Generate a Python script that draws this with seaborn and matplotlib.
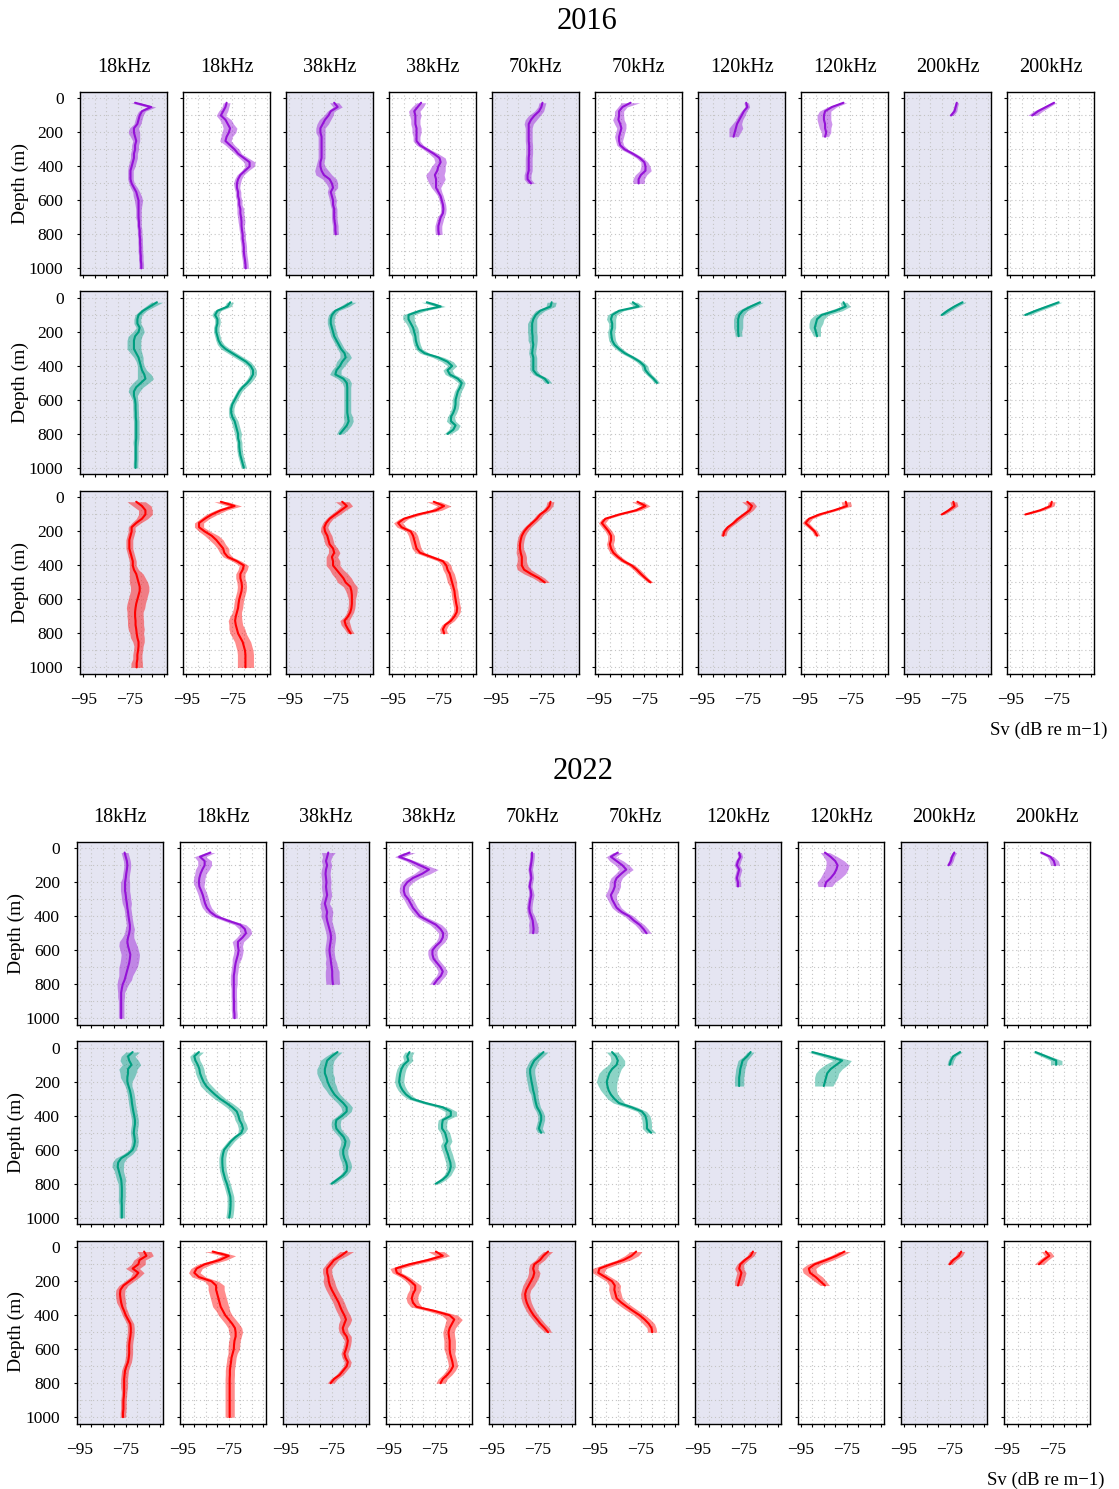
import numpy as np
import pandas as pd
import matplotlib
matplotlib.use("Agg")
import matplotlib.pyplot as plt
import seaborn as sns
from matplotlib.ticker import FixedLocator

sns.set_theme(style="white")
plt.rcParams["font.family"] = ["Liberation Serif", "DejaVu Serif"]
plt.rcParams["axes.unicode_minus"] = True
for k in ["text.color", "axes.labelcolor", "xtick.color", "ytick.color"]:
    plt.rcParams[k] = "black"

# ---------------- data ----------------
YEARS = ["2016", "2022"]
FREQS = ["18kHz", "18kHz", "38kHz", "38kHz", "70kHz", "70kHz", "120kHz", "120kHz", "200kHz", "200kHz"]
XTICKS = [-95, -90, -85, -80, -75, -70, -65, -60]
XLABELS = ["\u221295", "", "", "", "\u221275", "", "", ""]
YTICKS = [0, 200, 400, 600, 800, 1000]
DEPTH_STEP = 25  # first sample at 25 m, then every 25 m

SV16_R1 = [
    [-72.5,-65.5,-69.5,-70.5,-71,-71.5,-73,-73,-72.5,-72,-72.5,-72.5,-73,-73,-73.5,-74,-74.5,-74.5,-74.5,-74,-73,-72,-71.5,-71,-71,-71,-71,-71,-70.8,-70.8,-70.5,-70.5,-70.3,-70.3,-70.2,-70.2,-70,-70,-69.8,-69.8],
    [-77.5,-78,-79,-80,-78,-77,-76,-76.5,-77.5,-78,-76,-74,-72.5,-70,-67.5,-67.5,-69.5,-71.5,-72.5,-73,-73,-72.5,-72.5,-72,-72,-71.5,-71.5,-71.2,-71,-71,-70.8,-70.5,-70.5,-70.2,-70,-70,-69.8,-69.5,-69.3,-69.2],
    [-75.5,-74,-77,-78,-79.5,-80.5,-81.5,-81.5,-81,-81,-81,-81,-81,-81,-81.5,-81.5,-81,-80,-77.5,-76.5,-76,-77,-76.5,-76,-76,-75.5,-75.5,-75.5,-75.3,-75,-75,-74.8],
    [-82.5,-84,-85.5,-85,-85,-85,-84.5,-84.5,-84.5,-84.5,-83,-80,-77,-74.5,-74,-75,-75.5,-76.5,-76,-76,-76,-75,-74,-73.5,-73,-72.8,-73,-74,-74.5,-75,-75,-74.8],
    [-74.5,-75,-76,-78,-79.5,-80.5,-80.5,-80.5,-80.5,-80.5,-80.3,-80.3,-80.3,-80.5,-80.5,-80.5,-80.5,-81,-81,-79.5],
    [-81,-84.5,-86,-86,-86.3,-85.5,-85,-85.5,-86,-86,-85.5,-83.5,-80,-77,-75,-74.5,-74.5,-76.5,-77.5,-77.5],
    [-75.5,-75,-76.5,-77.5,-78.5,-79.5,-80,-80.5,-81],
    [-78,-83,-86,-86.5,-86.5,-86,-86,-85.5,-86],
    [-73.5,-74,-74.5,-76],
    [-76,-79.5,-83,-85.5],
]
W16_R1 = [
    [2,2,1.5,1.5,1.5,1.5,2,2.5,2,1.5,1.5,1.5,1.5,1.5,1.5,1.5,1.2,1.2,1.2,1.2,1.5,1.5,1.8,1.8,1.5,1.2,1.2,1.2,1,1,1,1,1,1,1,1,1,1,1,1],
    [1.5,1.5,2,2,2.5,2.5,3,3,2.5,2.5,2,2,1.5,2,2.5,2,1.5,1.5,1.5,1.5,1.2,1.2,1.2,1.2,1.2,1.5,1.5,1.5,1.5,1.2,1.2,1.2,1.2,1.2,1.2,1.2,1.2,1.2,1.2,1.2],
    [2,2,1.5,2,2.5,2.5,2,2,1.5,1.5,1.5,1.5,1.5,1.5,1.5,2,3,3.5,3,2.5,2,1.5,1.5,1.5,1.2,1.2,1.2,1.2,1.2,1.2,1.2,1.2],
    [2,2.5,2.5,2.5,2,2,2,2,1.5,1.5,1.5,1.5,2,2.5,2.5,3,3.5,4,4,3,2,1.5,1.2,1.2,1.2,1.2,1.2,1.5,1.5,1.5,1.5,1.5],
    [1.5,1.5,2,2.5,2.5,2,1.5,1.5,1.5,1.5,1.5,1.5,1.5,1.5,1.5,1.5,1.5,1.5,1.5,1.5],
    [4,2,2,2,2.5,2.5,2,2,2,1.5,1.5,1.5,1.5,1.5,1.5,2,2.5,2.5,2.5,2.5],
    [1,1,1.2,1.5,1.5,2,3,2.5,2],
    [1.5,2,2.5,3,3,3,2.5,2,1.5],
    [0.8,0.8,1,1],
    [1,1.5,2,2],
]

SV16_R2 = [
    [-63,-66,-69,-71,-71.5,-71.5,-70.5,-71,-72.5,-73,-73,-73,-72,-71,-70.5,-70,-69.5,-68.5,-68,-70,-72,-73,-73,-72.5,-72.3,-72.3,-72.2,-72.2,-72,-72,-72,-72,-72,-72.2,-72.2,-72.2,-72.2,-72.2,-72.3,-72.3],
    [-76,-77,-81.5,-82.5,-81.5,-81.5,-82,-82,-81.5,-81,-80,-78,-75,-72,-69,-67,-66,-66,-67,-68.5,-70.5,-72,-73,-74,-75,-75.5,-75.5,-75,-74,-73.5,-73,-72.5,-72.5,-72,-72,-71.8,-71.5,-71,-70.5,-70],
    [-68,-71,-75,-76.5,-77,-77,-76.5,-76,-75.5,-74.5,-73.5,-72.5,-71,-70.5,-72,-73,-74.5,-75,-71.5,-70,-69.8,-69.8,-69.8,-69.8,-69.8,-69.8,-69.8,-69.5,-69.2,-70,-71.5,-73],
    [-80,-74,-83,-88,-88,-87,-86,-85.5,-85,-84.8,-84.3,-83.5,-81,-75,-71,-69,-71,-70,-66.5,-64.8,-65.5,-66.5,-67,-67.5,-67.5,-67.8,-68.5,-69.5,-69.5,-67.5,-68.5,-71],
    [-70.5,-71,-75.5,-77.5,-78.5,-79,-79,-79,-78.8,-78.8,-78.5,-78.8,-79,-78.5,-78.5,-78.5,-78.5,-77,-73.5,-72],
    [-80,-77.5,-86,-89,-89.5,-89,-89,-89.5,-89.3,-89,-88,-86,-83.5,-80,-77,-75,-74.5,-73,-71,-69.5],
    [-69.5,-73.5,-77,-78.5,-79,-79,-79,-79,-78.8],
    [-78,-77,-81.5,-87.5,-89.5,-90,-90.5,-90,-89.5],
    [-71,-74.5,-77.5,-80],
    [-74,-79,-84,-88.5],
]
W16_R2 = [
    [2.5,2,1.5,1.5,1.5,1.5,1.5,2.5,3,3,3,3,2.5,2,1.5,1.5,2,3,3.5,3.5,3,2.5,1.5,1.2,1.2,1.2,1.2,1.2,1.2,1.2,1.2,1.2,1.2,1.2,1,1,1,1,1,1],
    [1.5,1.5,1.5,1.5,1.2,1.2,1.2,1.2,1.2,1.2,1.5,2,2,2,2,1.5,1.5,1.5,1.5,1.5,1.5,1.2,1.2,1.2,1.2,1.2,1.2,1.5,1.5,1.5,1.5,1.5,1.2,1.2,1.2,1.2,1.2,1.2,1.2,1.2],
    [2,2,1.5,1.5,1.5,1.5,1.5,1.5,1.5,1.5,1.5,1.5,2,2.5,2.5,2,2,2.5,2.5,2,1.5,1.5,1.5,1.5,1.5,1.5,1.5,2,2,2,2,1.5],
    [2.5,2,2.5,2.5,2.5,2,2,2,1.5,1.5,1.5,1.5,2,2.5,2.5,2,2,2,2,1.5,1.5,1.5,1.5,1.5,1.5,1.5,1.5,1.5,2,2,2,1.5],
    [2,2,2,1.5,1.5,2,2,2,2,2,1.5,1.5,1.5,1.5,1.5,1.5,1.5,1.5,1.5,1.5],
    [2,2,2,2,2,1.5,1.5,1.5,1.5,1.5,1.5,1.5,1.5,1.5,1.5,1.5,1.5,1.2,1.2,1.2],
    [1.5,2,2,2,2,2,2,1.5,1.5],
    [1.5,2,3,3,3,3,2.5,2,1.5],
    [1.5,1.5,1.5,1.2],
    [1.5,2,2,2],
]

SV16_R3 = [
    [-72,-69.5,-68,-68,-69.5,-72,-74,-74,-74.5,-75,-75,-75,-74.5,-74,-73.5,-73.5,-73,-72,-71.5,-71,-70.5,-70.5,-71,-71.5,-72,-72.3,-72.5,-72.5,-72.3,-72.3,-72,-71.8,-71.5,-71,-71,-71.2,-71.5,-71.5,-71.8,-71.8],
    [-80,-74,-80,-84,-87,-89.5,-89.5,-87,-84,-82,-80.5,-79,-78.5,-77,-73,-70,-70.5,-71.5,-71.5,-71,-70.8,-71,-71.5,-72,-72.3,-72.5,-73,-73.5,-73.8,-73.5,-73,-72.5,-71.5,-70.5,-70,-69.5,-69.3,-69.3,-69.3,-69.3],
    [-72,-70,-72.5,-75,-77.5,-79,-79.8,-79.5,-78.5,-78,-77.5,-76,-75.5,-76.5,-76,-76,-74.5,-73,-71.5,-70.5,-68.5,-68,-67.8,-67.8,-67.8,-68,-68.5,-69.5,-71,-70.5,-69.5,-68.3],
    [-77,-72.5,-76,-84,-90,-92.5,-91,-87,-86,-85.5,-85,-84.5,-83,-78,-73,-71.5,-71,-70,-69.5,-69,-68.5,-68,-67.8,-67.5,-67.2,-66.8,-67,-68,-69.5,-72,-73,-72.5],
    [-71,-71.5,-73,-75.5,-77,-79,-81,-82.5,-83.5,-84,-84.3,-84.3,-84,-83.5,-83.5,-83.5,-82.5,-79.5,-76,-73.5],
    [-78,-74.5,-78.5,-86,-92,-93.5,-92,-90.5,-89.5,-89.5,-90,-89.5,-88.5,-86.5,-84,-80.5,-78.3,-76.5,-74.5,-72.3],
    [-75,-73,-74,-76.5,-79,-81,-83.5,-85,-85.5],
    [-77,-76.5,-82,-88.5,-93,-94.5,-92.5,-90.5,-89.5],
    [-75,-74.5,-77,-80],
    [-77,-77.5,-82,-88.5],
]
W16_R3 = [
    [4,4,3,3,2.5,2,1.5,1.5,1.5,1.5,1.5,1.5,1.5,1.5,1.5,1.5,2,3,3.5,4,4,4,4,4,4,4,3.5,3.5,3.5,3.5,3.5,3,3,2.5,2,2,2,2,2.5,2.5],
    [3,3,2.5,2.5,2,2,2,2.5,3,3,2.5,2.5,2,2,2,2,2,2,2,2,2,2,2,2,2,2,2,2.5,3,3,3.5,3.5,3.5,3.5,3.5,3.5,3.5,3.5,3.5,3.5],
    [3,2.5,2,2,1.5,1.5,1.5,2,2,2,2,2,2.5,2.5,3,3,3,3.5,3.5,3.5,3,2.5,2,1.5,1.5,1.5,1.5,1.5,2,2,1.5,1.5],
    [3,3,2.5,2,2,2,2,2,2,2,2,2,2,2,2,2,2,2,2,2,1.5,1.5,1.5,1.5,1.5,1.5,1.5,1.5,1.5,1.5,1.5,1.5],
    [1.5,1.5,1.5,1.5,1.5,1.5,1.5,1.5,1.5,1.5,1.5,1.5,2,2,2,2.5,3,3,2.5,2],
    [2.5,2,2,1.5,1.5,1.5,1.5,1.5,1.5,1.5,1.5,1.5,1.5,1.5,1.5,1.5,1.5,1.5,1.2,1.2],
    [2.5,2,1.5,1.5,1.5,1.2,1.2,1.2,1.2],
    [2,2,1.5,1.5,1.5,1.5,1.2,1.2,1.2],
    [1.5,1.5,1.2,1.2],
    [1.5,1.5,1.5,1.2],
]

SV22_R1 = [
    [-75.5,-75,-74.5,-74.3,-74.5,-74.8,-75,-75.3,-75.3,-75.3,-75,-74.8,-74.5,-74.3,-74,-73.8,-73.5,-73.2,-73.2,-73.5,-74,-74.3,-74,-73.5,-73,-73.2,-73.5,-74,-74.5,-75,-75.5,-76.3,-76.7,-77,-77,-77,-77,-77,-77,-77],
    [-83,-87.5,-85.5,-85.5,-86.5,-87.3,-87.8,-88,-87.8,-87,-86.3,-85.8,-85.3,-84.5,-83,-80.5,-75.5,-70,-68,-67.5,-69,-71,-71,-70.7,-71,-71.5,-72,-72.3,-72.5,-72.8,-72.8,-72.8,-72.8,-72.8,-72.8,-72.7,-72.7,-72.7,-72.5,-72.5],
    [-76.5,-77,-77.5,-77,-77.5,-77.7,-77.5,-77.3,-77.5,-77.3,-77,-77.5,-78,-77.5,-77,-77.3,-77,-76.5,-76,-75.5,-75.3,-75.5,-75.8,-76,-75.8,-75.5,-75.3,-75,-74.8,-74.8,-74.7,-74.5],
    [-86,-90.5,-85.5,-81.5,-77.5,-80.5,-84.5,-87,-88.3,-88.5,-88,-86.5,-85.5,-84.5,-83,-81.5,-78,-74.5,-72.5,-71.3,-71.5,-72.5,-74.5,-76,-76,-75.5,-74,-72.5,-71.5,-72.3,-74,-75.3],
    [-77.5,-77.5,-77.7,-78,-78.3,-78,-77.8,-78.2,-78.5,-78,-77.8,-78.2,-78.5,-78.7,-78.5,-77.8,-77.2,-77,-76.8,-77],
    [-85,-88,-85.5,-83,-81.3,-83.5,-85.5,-86.3,-86.3,-87,-88,-87.5,-86.5,-85.5,-83.3,-80,-78,-75.5,-73.8,-72.5],
    [-77,-76.5,-77.5,-78,-77,-77.5,-78,-77.5,-77.5],
    [-84.5,-82,-80,-79,-79.5,-80.5,-82,-84,-84.5],
    [-73,-74,-74.5,-75.5],
    [-80,-76,-74.5,-74],
]
W22_R1 = [
    [1.5,1.5,1.5,1.5,1.5,1.5,1.5,2,2,2,2,2,2,1.5,1.5,1.5,1.5,1.5,2,2,2.5,3.5,4,4,4,4,4,4,3.5,3,3,2.5,2,1.5,1.5,1.2,1.2,1.2,1.2,1.2],
    [2,2.5,3,3,3,2.5,2.5,2.5,2,2,2,2,2,2,2,2,2,2.5,2.5,2.5,2.5,2.5,2,2,2,2,1.5,1.5,1.5,1.5,1.5,1.5,1.2,1.2,1.2,1.2,1.2,1.2,1.2,1.2],
    [3,2,2,2,2,2,2,2,2,2,2,2,2,2.5,2.5,2.5,2,2,2,2,2,2,2,2,2,2,2.5,2.5,3,3,3,3],
    [2.5,2,2,3,4,3.5,3,2.5,2,2,2,2,2,2,2,2,2.5,2.5,2.5,2,2,2,2,2,2,2,2,2,2,2,2,2],
    [1,1,1,1,1,1,1,1,1,1,1.2,1.2,1.2,1.2,1.2,1.5,1.5,2,2,2],
    [2,2,3,3,3,2.5,2.5,2.5,2.5,2.5,2.5,2,2,2,2,2,2,2,2,2],
    [1,1,1.2,1.2,1.2,1.2,1.2,1.2,1.2],
    [2,3,4,5,5,5,4.5,4,3],
    [1,1,1,1],
    [1,1.5,2,2],
]

SV22_R2 = [
    [-72,-74,-73.5,-72.5,-74,-74,-74.3,-74.3,-73.8,-73.2,-72.8,-72.5,-72.3,-72,-71.7,-71.3,-71,-71,-71.3,-71.5,-71.2,-71,-71.3,-72,-74,-77,-78.3,-78.5,-78,-77.5,-77,-76.8,-76.7,-76.7,-76.7,-76.8,-76.7,-76.7,-76.7,-76.7],
    [-88,-90,-89.5,-88.5,-87.8,-87.5,-86.8,-86,-84.8,-83,-81,-78.8,-76,-73.5,-71.5,-70.8,-70.3,-69.3,-68.8,-69.5,-72,-74,-75.5,-77,-77.5,-77.8,-77.8,-77.7,-77.5,-77,-76.5,-75.8,-75.3,-74.8,-74.3,-74.2,-74.2,-74.3,-74.5,-74.8],
    [-72.5,-75,-77,-77.5,-78,-78,-77.3,-76.8,-76,-75,-73.8,-72,-70,-68.5,-68.5,-70.5,-73,-73.3,-73,-71.5,-69.8,-69,-69.3,-70,-70,-69.5,-68.7,-68.3,-68.5,-70,-72.5,-75],
    [-86,-87,-86.5,-88.5,-89.5,-90,-90.3,-90.5,-90,-89,-87.5,-85,-79,-71.5,-68,-68,-71.5,-71.8,-71.8,-70.5,-70,-69.5,-70.5,-70,-69.3,-68.8,-68.2,-68,-68.5,-69.5,-71.5,-74.5],
    [-72.5,-74.5,-76.5,-77.5,-78.3,-78.3,-78,-77.7,-77.3,-77,-76.5,-76.2,-75.8,-75.3,-74.2,-73.5,-73.5,-74,-74.5,-73.5],
    [-87.5,-85.8,-85,-85.5,-87.5,-88.7,-89.3,-89.8,-89.5,-89,-88,-86.5,-84.5,-79,-74.5,-73,-72.5,-72.3,-72.3,-70.5],
    [-72,-73.5,-75.5,-76,-76.5,-76.7,-77,-77,-77],
    [-90,-83,-77,-79.5,-82,-83.5,-84,-84.5,-85],
    [-70.5,-73.5,-74.5,-75],
    [-82.5,-78,-73.5,-73.5],
]
W22_R2 = [
    [3,3,4,4,4,3.5,3,2,1.5,1.5,1.5,1.5,1.5,1.5,1.5,1.5,1.5,1.5,1.5,1.5,1.5,1.5,1.5,1.5,2,2.5,2.5,2.5,2,2,2,1.5,1.5,1.5,1.5,1.5,1.2,1.2,1.2,1.2],
    [2,2,2,2,2,2,2,2,2.5,2.5,2.5,2.5,2.5,2.5,2.5,2,2,2,2,1.5,1.5,1.5,1.5,1.5,1.5,1.5,1.5,1.5,1.5,1.5,1.5,1.5,1.5,1.5,1.5,1.5,1.5,1.5,1.5,1.5],
    [2,2.5,3,3,3.5,3.5,3.5,3,3,2.5,2.5,2.5,2.5,2.5,2,2,2,2,2,2,2,2,2,2,2,2,2,2,1.5,1.5,1.5,1.5],
    [2,2,2,2,2,2,2,2,2,2,2,2,2,2.5,2.5,2.5,2,2,2,2,2,2,2,2,2,2,2,2,1.5,1.5,1.5,1.5],
    [2,2,2,2,2,2,2,2,2,2,1.5,1.5,1.5,1.5,1.5,1.5,1.5,1.5,1.5,1.5],
    [2.5,2.5,3,3.5,4,4.5,4.5,4.5,4,3.5,3,3,2.5,2.5,2,2,2,2,2,2],
    [1.5,1.5,2,2,2,2,2,2,2],
    [2,3,4,5,5,5,5,4.5,4],
    [1,1.2,1.2,1.2],
    [1.5,2,2.5,2.5],
]

SV22_R3 = [
    [-67,-66,-69,-69.5,-72,-69.5,-71,-73.5,-76,-77.3,-77.5,-77.3,-77,-76.5,-75.7,-75,-74,-73,-72.8,-72.8,-73,-73.3,-73.5,-73.5,-73.5,-73.7,-74,-74.7,-75.3,-75.5,-75.7,-75.7,-75.7,-75.7,-75.8,-76,-76,-76,-76.2,-76.2],
    [-82,-75,-79,-85.5,-89,-90,-88,-82.5,-80.5,-80.5,-80,-79.5,-79,-78.5,-77.5,-76.5,-75,-73.5,-72.3,-72,-72,-72.5,-72.7,-72.8,-73.3,-73.8,-74,-74.3,-74.5,-74.5,-74.6,-74.6,-74.6,-74.6,-74.6,-74.6,-74.6,-74.6,-74.6,-74.6],
    [-68.5,-71,-74,-75.5,-77,-77,-76.5,-76.3,-75.8,-75,-74,-73,-72,-71.3,-70.5,-69.5,-68.8,-69.5,-70.2,-69.8,-68.5,-68,-68.3,-68.8,-69.5,-69,-68,-68.5,-70,-71.5,-74,-75.5],
    [-74.5,-71.5,-78,-86,-92,-91.5,-88,-85.5,-83.5,-83.5,-84.5,-85,-84.5,-83,-75,-68.5,-66.5,-67.5,-68.5,-69,-68.8,-68.5,-68.5,-68.5,-68.3,-67.8,-67.3,-67,-68,-69.5,-71.5,-72.5],
    [-70.5,-72.5,-74,-76.5,-77,-76.5,-77,-78,-79,-80,-80.5,-80.3,-79.8,-79,-78,-76.8,-75.3,-73.8,-72,-70.5],
    [-77,-79,-82.5,-88,-93,-93.5,-90.5,-87.5,-86.3,-86.5,-86,-85.5,-83.5,-81,-78.3,-75.5,-73.3,-71.5,-70.3,-70],
    [-71,-72,-74.5,-76.5,-77,-76,-76.5,-77,-77.5],
    [-76,-79.5,-84,-89,-91.5,-91,-88.5,-86.5,-84.5],
    [-70,-71,-73.5,-75],
    [-78,-76.5,-79,-81],
]
W22_R3 = [
    [3,3,2.5,3,3,2.5,2,2,2,2,2,2,2,1.5,1.5,1.5,1.5,1.5,1.5,1.5,1.5,1.5,1.5,1.5,1.5,1.5,1.5,1.5,1.5,1.5,1.5,1.5,1.5,1.2,1.2,1.2,1.2,1.2,1.2,1.2],
    [3.5,3,3,3,2.5,2.5,3,3,3.5,3.5,3.5,3.5,3.5,3.5,3,3,3,3,3,3,2.5,2.5,2.5,2.5,2,2,2,2,2,2,2,2,2,2,2,2,2,2,2,2],
    [3,2.5,2,2,2,2,2,2.5,2.5,2.5,2.5,2.5,2.5,2.5,2.5,2.5,2.5,2.5,2,2,2,1.5,1.5,1.5,1.5,1.5,1.5,1.5,1.5,1.5,1.5,1.5],
    [3.5,3,3,3,2.5,2,2,2,2.5,2.5,2.5,2.5,2.5,2.5,3,3.5,3.5,3,2.5,2.5,2.5,2.5,2.5,2.5,2,2,2,2,2,2,2,2],
    [2,2,2,2,2,2.5,2.5,2.5,2.5,2,2,2,2,2,2,2,2,2,2,1.5],
    [2.5,3,3,3,3,2.5,2.5,2.5,2.5,2.5,2.5,2.5,2.5,2.5,2.5,2.5,2.5,2.5,2,2],
    [1.5,1.5,1.5,1.5,2,2,2,2,1.5],
    [2.5,2.5,3,3,3,3,3,2.5,2],
    [1.5,1.5,1.5,1.2],
    [2,2,2,2],
]

ROW_COLORS = ["#9412D6", "#009E80", "#FF0000"]
SHADE = "#E5E5F2"

BLOCKS = {
    "2016": dict(rows=[(SV16_R1, W16_R1), (SV16_R2, W16_R2), (SV16_R3, W16_R3)], x0=80.2, y0=91.7),
    "2022": dict(rows=[(SV22_R1, W22_R1), (SV22_R2, W22_R2), (SV22_R3, W22_R3)], x0=76.6, y0=841.5),
}

# ---------------- layout ----------------
FW, FH = 1119, 1489
fig = plt.figure(figsize=(FW / 100, FH / 100), dpi=100)
PX, PW = 103.0, 86.8
PY, PH = 199.5, 183.0


def add_ax(left, top, w, h):
    return fig.add_axes([left / FW, 1 - (top + h) / FH, w / FW, h / FH])


def draw_profile(ax, sv, w, color):
    sv = np.asarray(sv, float)
    n = len(sv)
    w = list(w) + [w[-1]] * max(0, n - len(w))
    w = np.asarray(w[:n], float)
    depth = DEPTH_STEP * np.arange(1, n + 1)
    df = pd.DataFrame({"depth": np.concatenate([depth, depth]),
                       "sv": np.concatenate([sv - w, sv + w])})
    sns.lineplot(data=df, x="sv", y="depth", orient="y", estimator="mean",
                 errorbar=("pi", 100), color=color, lw=1.5,
                 err_kws={"alpha": 0.45, "lw": 0}, ax=ax, legend=False)


for year in YEARS:
    b = BLOCKS[year]
    x0, y0 = b["x0"], b["y0"]
    cx = x0 + (9 * PX + PW) / 2
    fig.text(cx / FW, 1 - (y0 - 70) / FH, year, ha="center", va="center", fontsize=22)
    for ci, f in enumerate(FREQS):
        fig.text((x0 + ci * PX + PW / 2) / FW, 1 - (y0 - 24.5) / FH, f,
                 ha="center", va="center", fontsize=14.5)
    for ri, (svrow, wrow) in enumerate(b["rows"]):
        top = y0 + ri * PY
        fig.text((x0 - 60) / FW, 1 - (top + PH / 2) / FH, "Depth (m)", rotation=90,
                 ha="center", va="center", fontsize=14)
        for ci in range(10):
            ax = add_ax(x0 + ci * PX, top, PW, PH)
            ax.set_facecolor(SHADE if ci % 2 == 0 else "white")
            draw_profile(ax, svrow[ci], wrow[ci], ROW_COLORS[ri])
            ax.set_xlim(-96.4, -58.6)
            ax.set_ylim(1037, -40)
            ax.xaxis.set_major_locator(FixedLocator(XTICKS))
            ax.yaxis.set_major_locator(FixedLocator(YTICKS))
            ax.yaxis.set_minor_locator(FixedLocator([100, 300, 500, 700, 900]))
            ax.grid(which="both", color="#c4c4c4", ls=(0, (1, 2.5)), lw=0.8)
            ax.set_axisbelow(True)
            ax.tick_params(which="major", direction="out", length=2.5, width=0.8,
                           color="black", labelcolor="black", labelsize=12.5,
                           bottom=True, left=True, top=False, right=False)
            ax.tick_params(axis="y", which="minor", length=0)
            ax.tick_params(axis="x", pad=10.5)
            ax.tick_params(axis="y", pad=9.5)
            if ri == 2:
                ax.set_xticklabels(XLABELS)
            else:
                ax.set_xticklabels([""] * len(XTICKS))
            if ci == 0:
                ax.set_yticklabels([str(t) for t in YTICKS])
            else:
                ax.set_yticklabels([""] * len(YTICKS))
            ax.set_xlabel("")
            ax.set_ylabel("")
            for s in ax.spines.values():
                s.set_color("black")
                s.set_linewidth(1.0)
    fig.text((x0 + 9 * PX + PW + 14) / FW, 1 - (y0 + 639) / FH, "Sv (dB re m\u22121)",
             ha="right", va="center", fontsize=13.5)

fig.savefig("out.png", dpi=100)
